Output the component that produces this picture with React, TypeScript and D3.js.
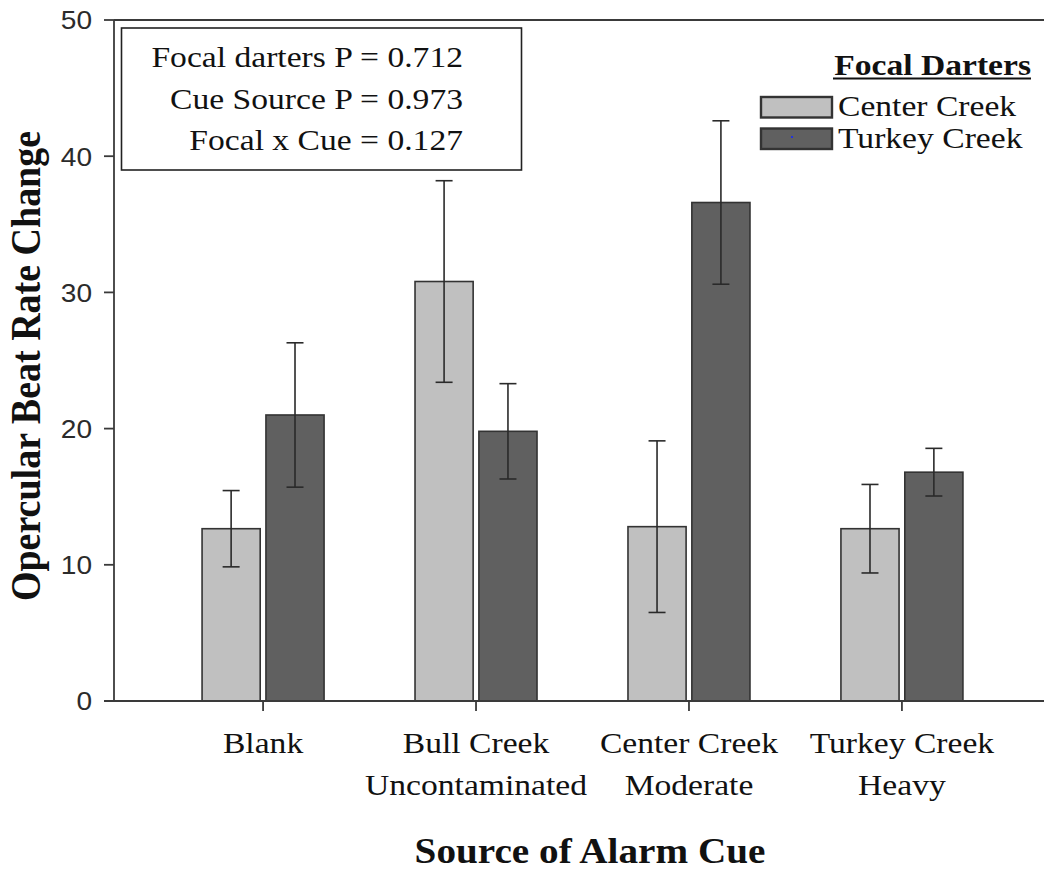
import React from "react";
import * as d3 from "d3";

// Source of alarm cue (two-line tick labels split on "\n")
const categories = [
  "Blank",
  "Bull Creek\nUncontaminated",
  "Center Creek\nModerate",
  "Turkey Creek\nHeavy",
];

// Focal darter populations
const seriesNames = ["Center Creek", "Turkey Creek"];

// Mean opercular beat rate change and standard error
const centerCreekMeans = [12.65, 30.8, 12.8, 12.65];
const centerCreekSE = [2.8, 7.4, 6.3, 3.25];
const turkeyCreekMeans = [21.0, 19.8, 36.6, 16.8];
const turkeyCreekSE = [5.3, 3.5, 6.0, 1.75];

const yTicks = [0, 10, 20, 30, 40, 50];

const statLines = [
  "Focal darters P = 0.712",
  "Cue Source P = 0.973",
  "Focal x Cue = 0.127",
];

const seriesFills = ["#c0c0c0", "#606060"];

const W = 1044;
const H = 871;
const plot = { left: 114, right: 1051, top: 20, bottom: 701 };
const SX = 1.12; // horizontal text stretch
const SERIF = "'Liberation Serif', 'Times New Roman', serif";
const SANS = "'Liberation Sans', Arial, sans-serif";
const INK = "#2b2b2b";

type TProps = {
  x: number;
  y: number;
  size: number;
  anchor?: "start" | "middle" | "end";
  weight?: string | number;
  family?: string;
  fill?: string;
  rotate?: boolean;
  dy?: string;
  sx?: number;
  children: React.ReactNode;
};

function SText({ x, y, size, anchor = "start", weight = "normal", family = SERIF, fill = "#111", rotate = false, dy, sx = SX, children }: TProps) {
  return (
    <text
      transform={`translate(${x},${y}) scale(${sx},1)${rotate ? " rotate(-90)" : ""}`}
      textAnchor={anchor}
      fontSize={size}
      fontWeight={weight}
      fontFamily={family}
      fill={fill}
      dy={dy}
    >
      {children}
    </text>
  );
}

export default function App() {
  const x = d3
    .scaleBand<string>()
    .domain(categories)
    .range([plot.left, plot.right])
    .paddingInner(0)
    .paddingOuter(0.2);
  const sub = d3.scaleBand<string>().domain(seriesNames).range([-61, 61]).paddingInner(0.09);
  const y = d3.scaleLinear().domain([0, 50]).range([plot.bottom, plot.top]);

  const series = [
    { name: seriesNames[0], means: centerCreekMeans, se: centerCreekSE, fill: seriesFills[0] },
    { name: seriesNames[1], means: turkeyCreekMeans, se: turkeyCreekSE, fill: seriesFills[1] },
  ];
  const capHalf = 8.5;

  return (
    <svg
      width={W}
      height={H}
      viewBox={`0 0 ${W} ${H}`}
      style={{ position: "absolute", left: 0, top: 0, background: "#fff" }}
    >
      <rect x={0} y={0} width={W} height={H} fill="#fff" />

      {/* bars */}
      {series.map((s) =>
        categories.map((c, i) => {
          const cx = x(c)! + x.bandwidth() / 2;
          const bx = cx + sub(s.name)!;
          return (
            <rect
              key={s.name + c}
              x={bx}
              y={y(s.means[i])}
              width={sub.bandwidth()}
              height={y(0) - y(s.means[i])}
              fill={s.fill}
              stroke="#333"
              strokeWidth={1.6}
            />
          );
        })
      )}

      {/* error bars */}
      {series.map((s) =>
        categories.map((c, i) => {
          const cx = x(c)! + x.bandwidth() / 2 + sub(s.name)! + sub.bandwidth() / 2;
          const hi = y(s.means[i] + s.se[i]);
          const lo = y(s.means[i] - s.se[i]);
          return (
            <g key={"e" + s.name + c} stroke="#2a2a2a" strokeWidth={1.6}>
              <line x1={cx} x2={cx} y1={hi} y2={lo} />
              <line x1={cx - capHalf} x2={cx + capHalf} y1={hi} y2={hi} />
              <line x1={cx - capHalf} x2={cx + capHalf} y1={lo} y2={lo} />
            </g>
          );
        })
      )}

      {/* axes frame */}
      <g stroke="#3a3a3a" strokeWidth={1.8} fill="none">
        <line x1={plot.left} x2={plot.left} y1={plot.top} y2={plot.bottom} />
        <line x1={plot.left} x2={W} y1={plot.top} y2={plot.top} />
        <line x1={plot.left - 10} x2={W} y1={plot.bottom} y2={plot.bottom} />
        {yTicks.map((t) => (
          <line key={"yt" + t} x1={plot.left - 10} x2={plot.left} y1={y(t)} y2={y(t)} />
        ))}
        {categories.map((c) => {
          const cx = x(c)! + x.bandwidth() / 2;
          return <line key={"xt" + c} x1={cx} x2={cx} y1={plot.bottom} y2={plot.bottom + 10} />;
        })}
      </g>

      {/* y tick labels */}
      {yTicks.map((t) => (
        <SText key={"yl" + t} x={92} y={y(t)} size={26} sx={1.08} anchor="end" family={SANS} fill={INK} dy="0.36em">
          {t}
        </SText>
      ))}

      {/* x tick labels */}
      {categories.map((c) => {
        const cx = x(c)! + x.bandwidth() / 2;
        return c.split("\n").map((line, k) => (
          <SText key={"xl" + c + k} x={cx} y={753 + k * 42} size={30} anchor="middle">
            {line}
          </SText>
        ));
      })}

      {/* axis titles */}
      <SText x={590} y={863} size={35} anchor="middle" weight="bold">
        Source of Alarm Cue
      </SText>
      <SText x={40} y={366} size={38} anchor="middle" weight="bold" rotate>
        Opercular Beat Rate Change
      </SText>

      {/* statistics box */}
      <rect x={121.5} y={28} width={400} height={142} fill="#fff" stroke="#222" strokeWidth={1.6} />
      {statLines.map((s, i) => (
        <SText key={"st" + i} x={463} y={67 + i * 41.5} size={30} anchor="end">
          {s}
        </SText>
      ))}

      {/* legend */}
      <SText x={1031} y={75} size={30} anchor="end" weight="bold">
        Focal Darters
      </SText>
      <line x1={833} x2={1031} y1={78.5} y2={78.5} stroke="#111" strokeWidth={2.2} />
      {series.map((s, i) => (
        <g key={"lg" + s.name}>
          <rect
            x={761}
            y={97 + i * 31.5}
            width={71}
            height={20.5}
            fill={s.fill}
            stroke="#333"
            strokeWidth={2.4}
          />
          <SText x={838} y={116 + i * 32} size={30}>
            {s.name}
          </SText>
        </g>
      ))}
      <rect x={791} y={136} width={2} height={2} fill="#2233dd" />
    </svg>
  );
}
